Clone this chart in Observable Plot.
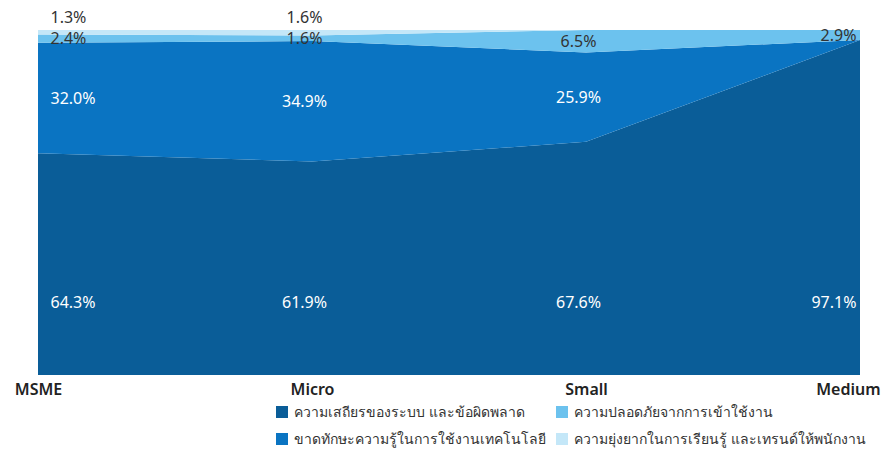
<!DOCTYPE html>
<html>
<head>
<meta charset="utf-8">
<script src="https://cdn.jsdelivr.net/npm/d3@7"></script>
<script src="https://cdn.jsdelivr.net/npm/@observablehq/plot@0.6"></script>
<style>
  html, body { margin: 0; padding: 0; background: #fff; }
  body { width: 887px; height: 458px; overflow: hidden; font-family: "Noto Sans", "Open Sans", "DejaVu Sans", sans-serif; }
  #legend { display: grid; grid-template-columns: 280px 320px; padding-left: 276px; row-gap: 7px; margin-top: 2px; }
  .item { display: flex; align-items: center; font-size: 14px; color: #333; height: 20px; white-space: nowrap; }
  .sw { width: 12px; height: 12px; margin-right: 6px; flex: none; }
</style>
</head>
<body>
<div id="chart"></div>
<div id="legend"></div>
<script>
const categories = ["MSME", "Micro", "Small", "Medium"];
const seriesNames = [
  "ความเสถียรของระบบ และข้อผิดพลาด",
  "ขาดทักษะความรู้ในการใช้งานเทคโนโลยี",
  "ความปลอดภัยจากการเข้าใช้งาน",
  "ความยุ่งยากในการเรียนรู้ และเทรนด์ให้พนักงาน"
];
const stability = [64.3, 61.9, 67.6, 97.1];
const skills    = [32.0, 34.9, 25.9, 0];
const security  = [2.4, 1.6, 6.5, 2.9];
const learning  = [1.3, 1.6, 0, 0];
const seriesColors = ["#0a5d98", "#0a74c2", "#6cc2ee", "#c4e7f8"];

const seriesValues = [stability, skills, security, learning];
const rows = [];
categories.forEach((c, i) => {
  let base = 0;
  seriesValues.forEach((vals, s) => {
    const v = vals[i];
    rows.push({cat: c, idx: i, series: seriesNames[s], s, value: v, y1: base, y2: base + v, mid: base + v / 2});
    base += v;
  });
});

const fmt = v => v.toFixed(1) + "%";
const last = categories.length - 1;

function labelMarks(data, yFn, fill, opts = {}) {
  const base = {x: "cat", y: yFn, text: d => fmt(d.value), fill, fontSize: 16, ...opts};
  return [
    Plot.text(data.filter(d => d.idx === 0), {...base, textAnchor: "start", dx: 12}),
    Plot.text(data.filter(d => d.idx > 0 && d.idx < last), {...base, textAnchor: "middle", dx: -8}),
    Plot.text(data.filter(d => d.idx === last), {...base, textAnchor: "end", dx: -4})
  ];
}

const s1 = rows.filter(d => d.s === 0);
const s2 = rows.filter(d => d.s === 1 && d.value > 0);
const s3 = rows.filter(d => d.s === 2 && d.value > 0);
const s4 = rows.filter(d => d.s === 3 && d.value > 0);

const plot = Plot.plot({
  width: 887,
  height: 400,
  marginTop: 30,
  marginBottom: 25,
  marginLeft: 37,
  marginRight: 27,
  style: {fontFamily: "'Noto Sans', 'Open Sans', 'DejaVu Sans', sans-serif"},
  x: {type: "point", domain: categories, padding: 0, axis: null, label: null},
  y: {domain: [0, 100], axis: null},
  color: {domain: seriesNames, range: seriesColors},
  marks: [
    Plot.areaY(rows, {x: "cat", y1: "y1", y2: "y2", fill: "series", z: "series", curve: "linear"}),
    ...labelMarks(s1, () => 21, "white"),
    ...labelMarks(s2, "mid", "white"),
    ...labelMarks(s3, "mid", "#333"),
    ...labelMarks(s4, () => 100, "#333", {dy: -13}),
    Plot.axisX(categories.slice(0, last), {tickSize: 0, tickPadding: 8, fontSize: 16, fontWeight: 600, fill: "#222", label: null}),
    Plot.axisX(categories.slice(last), {tickSize: 0, tickPadding: 8, fontSize: 16, fontWeight: 600, fill: "#222", textAnchor: "end", dx: 20, label: null})
  ]
});
document.getElementById("chart").appendChild(plot);

const colorScale = plot.scale("color");
const legend = document.getElementById("legend");
const order = [0, 2, 1, 3];
order.forEach(s => {
  const item = document.createElement("div");
  item.className = "item";
  const sw = document.createElement("span");
  sw.className = "sw";
  sw.style.background = colorScale.range[s];
  const t = document.createElement("span");
  t.textContent = seriesNames[s];
  item.appendChild(sw);
  item.appendChild(t);
  legend.appendChild(item);
});
</script>
</body>
</html>
